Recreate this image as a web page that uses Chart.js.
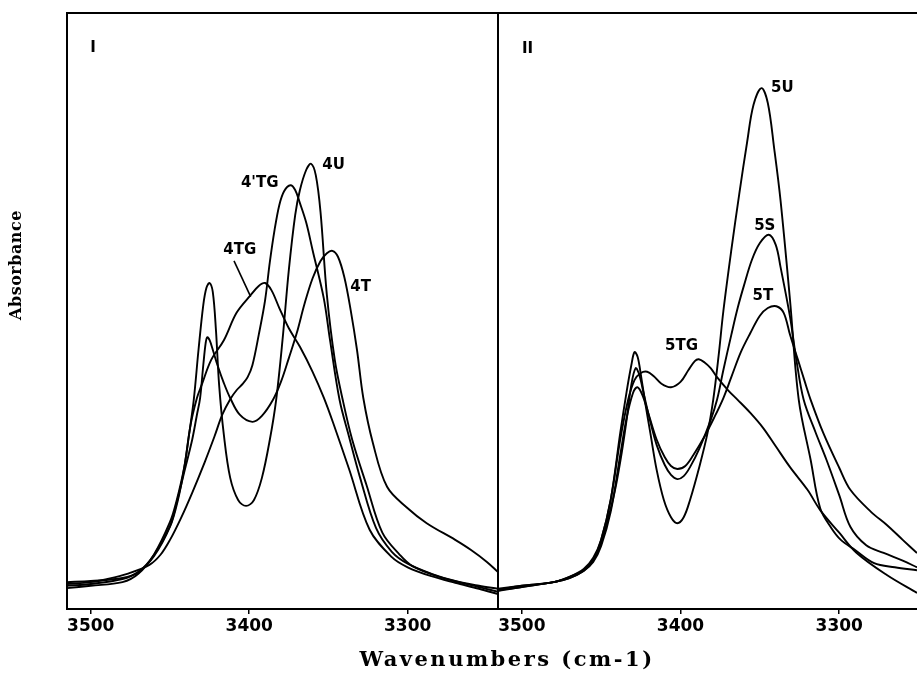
<!DOCTYPE html>
<html>
<head>
<meta charset="utf-8">
<title>IR spectra I / II</title>
<script src="https://cdn.jsdelivr.net/npm/chart.js@4.4.1/dist/chart.umd.min.js"></script>
<style>
  html, body { margin: 0; padding: 0; background: #fff; }
  #wrap { position: relative; width: 917px; height: 680px; }
  #wrap canvas { position: absolute; left: 0; top: 0; }
</style>
</head>
<body>
<div id="wrap">
  <canvas id="panelI" width="917" height="680"></canvas>
  <canvas id="panelII" width="917" height="680"></canvas>
</div>
<script>
// tick labels on both x axes
const xTicks = [3500, 3400, 3300];

// panel I spectra: [wavenumber, absorbance]
const spec4U = [
  [3515,0.035],[3500,0.039],[3480,0.045],[3470,0.059],[3460,0.092],[3450,0.146],[3446,0.180],
  [3441,0.238],[3438,0.292],[3435,0.351],[3432,0.435],[3429,0.510],[3427,0.539],[3425,0.547],
  [3423,0.532],[3421,0.468],[3419,0.376],[3416,0.292],[3412,0.220],[3407,0.183],[3402,0.173],
  [3397,0.183],[3392,0.220],[3387,0.284],[3383,0.351],[3379,0.451],[3375,0.569],[3371,0.661],
  [3368,0.703],[3364,0.737],[3361,0.747],[3358,0.728],[3355,0.666],[3351,0.527],[3346,0.418],
  [3341,0.351],[3335,0.284],[3326,0.208],[3316,0.128],[3305,0.091],[3297,0.072],[3280,0.054],
  [3260,0.040],[3243,0.029]
];
const spec4T = [
  [3515,0.045],[3500,0.047],[3480,0.052],[3470,0.062],[3460,0.091],[3450,0.139],[3446,0.176],
  [3441,0.230],[3436,0.284],[3433,0.326],[3431,0.354],[3429,0.409],[3427.5,0.446],[3426.5,0.456],
  [3425,0.451],[3423,0.435],[3420,0.409],[3416,0.379],[3412,0.354],[3406,0.326],[3398,0.314],
  [3392,0.324],[3385,0.351],[3380,0.381],[3375,0.421],[3370,0.463],[3365,0.513],[3360,0.555],
  [3355,0.584],[3351,0.597],[3347.5,0.601],[3344,0.591],[3340,0.557],[3336,0.502],[3332,0.435],
  [3328,0.354],[3322,0.279],[3313,0.205],[3300,0.169],[3288,0.144],[3270,0.116],[3260,0.099],
  [3250,0.079],[3243,0.062]
];
const spec4TG = [
  [3515,0.039],[3500,0.042],[3480,0.050],[3470,0.062],[3460,0.089],[3450,0.138],[3445,0.183],
  [3441,0.237],[3437,0.309],[3433,0.354],[3430,0.376],[3424,0.418],[3416,0.451],[3408,0.497],
  [3399,0.527],[3394,0.542],[3390,0.547],[3386,0.535],[3381,0.505],[3375,0.471],[3368,0.440],
  [3360,0.398],[3353,0.355],[3347,0.312],[3337,0.235],[3324,0.133],[3310,0.087],[3300,0.070],
  [3285,0.055],[3270,0.044],[3255,0.034],[3243,0.025]
];
const spec4pTG = [
  [3515,0.042],[3500,0.045],[3490,0.050],[3477,0.059],[3463,0.074],[3456,0.091],[3450,0.116],
  [3443,0.153],[3436,0.195],[3428,0.247],[3422,0.289],[3417,0.326],[3412,0.352],[3408,0.367],
  [3404,0.378],[3401,0.389],[3398,0.409],[3394,0.460],[3390,0.518],[3387,0.582],[3384,0.636],
  [3381,0.678],[3378,0.701],[3374,0.711],[3371,0.703],[3368,0.681],[3364,0.648],[3360,0.602],
  [3353,0.522],[3349,0.451],[3343,0.351],[3337,0.289],[3330,0.220],[3320,0.136],[3310,0.096],
  [3300,0.076],[3285,0.059],[3270,0.047],[3255,0.039],[3243,0.034]
];

// panel II spectra
const spec5U = [
  [3515,0.032],[3500,0.039],[3480,0.045],[3470,0.054],[3461,0.067],[3455,0.086],[3450,0.116],
  [3444,0.183],[3438,0.295],[3434,0.364],[3431,0.409],[3429,0.431],[3427,0.423],[3425,0.393],
  [3422,0.342],[3419,0.295],[3415,0.233],[3410.5,0.183],[3406,0.154],[3402,0.144],[3398,0.154],
  [3394,0.183],[3388,0.240],[3383,0.295],[3379.4,0.351],[3376,0.425],[3373,0.500],[3368,0.602],
  [3363,0.696],[3358,0.784],[3354,0.846],[3349,0.874],[3345,0.849],[3341,0.773],[3337,0.686],
  [3331,0.518],[3325.5,0.351],[3318,0.250],[3312,0.169],[3305,0.136],[3299,0.116],[3290,0.099],
  [3278,0.077],[3265,0.070],[3251,0.065]
];
const spec5S = [
  [3515,0.034],[3500,0.039],[3480,0.045],[3470,0.054],[3461,0.065],[3455,0.082],[3450,0.112],
  [3445,0.158],[3441,0.203],[3437,0.263],[3434,0.317],[3431,0.376],[3428.3,0.404],[3426,0.393],
  [3423,0.359],[3419,0.314],[3415,0.275],[3410,0.242],[3406,0.225],[3402,0.218],[3398,0.223],
  [3394,0.238],[3388,0.270],[3381,0.317],[3377,0.351],[3373,0.401],[3368,0.460],[3364,0.505],
  [3360,0.543],[3355,0.586],[3350,0.614],[3344.4,0.628],[3340,0.611],[3337,0.574],[3331,0.490],
  [3327,0.418],[3322.4,0.351],[3315,0.297],[3308,0.250],[3300,0.191],[3293,0.138],[3283,0.107],
  [3272,0.094],[3260,0.081],[3251,0.070]
];
const spec5T = [
  [3515,0.032],[3500,0.037],[3480,0.045],[3470,0.052],[3461,0.064],[3455,0.079],[3450,0.106],
  [3444,0.163],[3438,0.258],[3434,0.320],[3430,0.362],[3427.2,0.372],[3424,0.359],[3420,0.326],
  [3415,0.284],[3410,0.255],[3406,0.240],[3402,0.235],[3397,0.240],[3392,0.258],[3385,0.289],
  [3379,0.320],[3373,0.354],[3368,0.389],[3362,0.431],[3356,0.463],[3350,0.492],[3345,0.505],
  [3339.6,0.508],[3335,0.497],[3331,0.460],[3326,0.418],[3322,0.384],[3318,0.351],[3310,0.295],
  [3300,0.237],[3293,0.200],[3280,0.163],[3270,0.141],[3260,0.116],[3251,0.094]
];
const spec5TG = [
  [3515,0.030],[3500,0.037],[3480,0.045],[3470,0.052],[3461,0.064],[3455,0.082],[3450,0.116],
  [3444,0.183],[3438,0.284],[3433,0.351],[3429,0.384],[3425,0.396],[3421,0.398],[3417,0.391],
  [3412,0.378],[3406,0.372],[3400,0.381],[3395,0.401],[3391,0.416],[3388.5,0.419],[3385,0.414],
  [3381,0.404],[3377,0.389],[3370,0.367],[3364,0.351],[3356,0.329],[3348,0.304],[3340,0.273],
  [3331,0.238],[3320,0.200],[3312,0.166],[3300,0.128],[3289,0.094],[3270,0.057],[3251,0.027]
];

// text placed inside the panels: [text, wavenumber, absorbance]
const notesI = [["I",3498.5,0.941],["4'TG",3393.4,0.715],["4U",3346.7,0.745],["4TG",3406,0.602],["4T",3329.7,0.540]];
const notesII = [["II",3496.4,0.940],["5U",3335.8,0.874],["5S",3346.9,0.643],["5T",3348.1,0.525],["5TG",3399.4,0.441]];
// leader from the 4TG label to its curve
const leader4TG = [[3409.6,0.584],[3399.1,0.524]];

function toXY(pairs) {
  return pairs.map(p => ({ x: p[0], y: p[1] }));
}

function lineSet(pairs) {
  return {
    data: toXY(pairs),
    borderColor: "#000",
    borderWidth: 1.9,
    pointRadius: 0,
    fill: false,
    tension: 0.35,
  };
}

// frame round the plot area; right side only for panel I
const framePlugin = {
  id: "frame",
  afterDatasetsDraw(chart, args, opts) {
    const { ctx, chartArea: a } = chart;
    ctx.save();
    ctx.strokeStyle = "#000";
    ctx.lineWidth = 2;
    ctx.beginPath();
    if (opts.closed) {
      ctx.rect(a.left, a.top, a.right - a.left, a.bottom - a.top);
    } else {
      ctx.moveTo(a.right + 2, a.top);
      ctx.lineTo(a.left, a.top);
      ctx.lineTo(a.left, a.bottom);
      ctx.lineTo(a.right + 2, a.bottom);
    }
    ctx.stroke();
    ctx.restore();
  },
};

const notesPlugin = {
  id: "notes",
  afterDatasetsDraw(chart, args, opts) {
    const { ctx, scales } = chart;
    ctx.save();
    ctx.fillStyle = "#000";
    ctx.font = 'bold 15px "DejaVu Sans"';
    ctx.textAlign = "center";
    ctx.textBaseline = "middle";
    (opts.items || []).forEach(n => {
      ctx.fillText(n[0], scales.x.getPixelForValue(n[1]), scales.y.getPixelForValue(n[2]));
    });
    if (opts.leader) {
      ctx.strokeStyle = "#000";
      ctx.lineWidth = 1.6;
      ctx.beginPath();
      opts.leader.forEach((p, i) => {
        const px = scales.x.getPixelForValue(p[0]);
        const py = scales.y.getPixelForValue(p[1]);
        if (i === 0) ctx.moveTo(px, py); else ctx.lineTo(px, py);
      });
      ctx.stroke();
    }
    ctx.restore();
  },
};

// shared axis titles, drawn once on panel I
const titlesPlugin = {
  id: "titles",
  afterDraw(chart) {
    const ctx = chart.ctx;
    ctx.save();
    ctx.fillStyle = "#000";
    ctx.textAlign = "center";
    ctx.textBaseline = "middle";
    ctx.font = 'bold 21px "DejaVu Serif"';
    if ("letterSpacing" in ctx) ctx.letterSpacing = "2.5px";
    ctx.fillText("Wavenumbers (cm-1)", 507, 661);
    if ("letterSpacing" in ctx) ctx.letterSpacing = "0.5px";
    ctx.font = 'bold 16px "DejaVu Serif"';
    ctx.translate(17, 265);
    ctx.rotate(-Math.PI / 2);
    ctx.fillText("Absorbance", 0, 0);
    ctx.restore();
  },
};

function makePanel(id, sets, xMin, padLeft, padRight, notes, leader, closed, titles) {
  const plugins = [framePlugin, notesPlugin];
  if (titles) plugins.push(titlesPlugin);
  return new Chart(document.getElementById(id).getContext("2d"), {
    type: "line",
    data: { datasets: sets.map(lineSet) },
    options: {
      responsive: false,
      animation: false,
      devicePixelRatio: 1,
      layout: { padding: { left: padLeft, right: padRight, top: 13, bottom: 0 } },
      plugins: {
        legend: { display: false },
        tooltip: { enabled: false },
        frame: { closed: closed },
        notes: { items: notes, leader: leader },
      },
      scales: {
        x: {
          type: "linear",
          reverse: true,
          min: xMin,
          max: 3515,
          afterBuildTicks: s => { s.ticks = xTicks.map(v => ({ value: v })); },
          afterFit: s => { s.height = 71; },
          border: { display: false },
          grid: { drawOnChartArea: false, tickLength: 5, color: "#000", lineWidth: 1.5 },
          ticks: {
            color: "#000",
            padding: 2,
            maxRotation: 0,
            font: { family: "DejaVu Sans", size: 17, weight: "bold" },
            callback: v => String(v),
          },
        },
        y: { display: false, min: 0, max: 1 },
      },
    },
    plugins: plugins,
  });
}

document.addEventListener("DOMContentLoaded", function () {
  makePanel("panelI", [spec4U, spec4T, spec4TG, spec4pTG], 3243, 67, 917 - 498, notesI, leader4TG, true, true);
  makePanel("panelII", [spec5U, spec5S, spec5T, spec5TG], 3251, 498, 0, notesII, null, false, false);
});
</script>
</body>
</html>
